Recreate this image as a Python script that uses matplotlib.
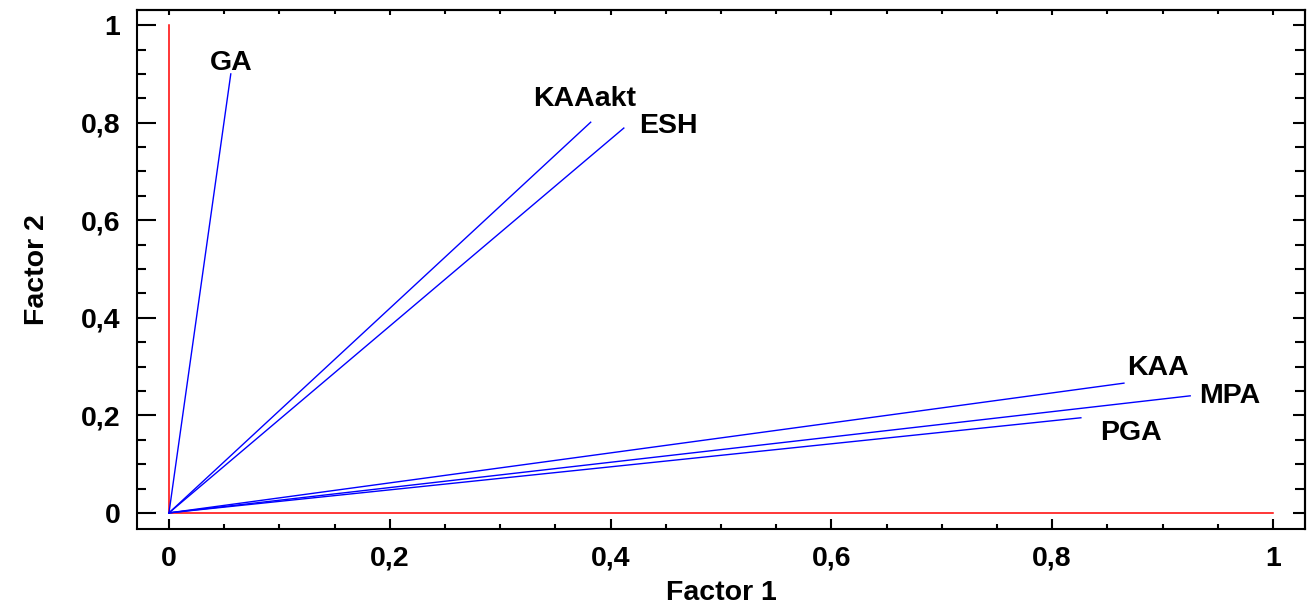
import matplotlib
matplotlib.use("Agg")
import matplotlib.pyplot as plt
from matplotlib.ticker import MultipleLocator, FuncFormatter

plt.rcParams['font.family'] = ['Liberation Sans', 'DejaVu Sans']
plt.rcParams['font.weight'] = 'bold'

# factor loadings
variables = ['GA', 'KAAakt', 'ESH', 'KAA', 'MPA', 'PGA']
factor1 = [0.056, 0.382, 0.412, 0.865, 0.925, 0.826]
factor2 = [0.900, 0.801, 0.789, 0.266, 0.240, 0.195]

# label placement (pixels from line end), alignment
label_offsets = [(0, 4), (-6, 16), (15, -5), (3, 8), (9, -7), (19, -22)]
label_ha = ['center', 'center', 'left', 'left', 'left', 'left']

FS = 20.5

fig = plt.figure(figsize=(13.08, 6.04), dpi=100)
ax = fig.add_axes([0.1047, 0.1242, 0.8930, 0.8592])

# reference axes in red
ax.plot([0, 0], [0, 1], color='red', lw=1.1)
ax.plot([0, 1], [0, 0], color='red', lw=1.1)

for name, f1, f2, off, ha in zip(variables, factor1, factor2, label_offsets, label_ha):
    ax.plot([0, f1], [0, f2], color='blue', lw=1.0)
    ax.annotate(name, (f1, f2), xytext=off, textcoords='offset pixels',
                ha=ha, va='baseline', fontsize=FS, fontweight='bold')

ax.set_xlim(-0.029, 1.029)
ax.set_ylim(-0.033, 1.031)

fmt = FuncFormatter(lambda v, p: ('%g' % round(v, 2)).replace('.', ','))
for axis in (ax.xaxis, ax.yaxis):
    axis.set_major_locator(MultipleLocator(0.2))
    axis.set_minor_locator(MultipleLocator(0.05))
    axis.set_major_formatter(fmt)

ax.tick_params(axis='x', which='major', direction='in', length=7, width=1.5,
               labelsize=FS, pad=12, top=False)
ax.tick_params(axis='x', which='minor', direction='in', length=3.5, width=1.5, top=False)
ax.tick_params(axis='y', which='major', direction='in', length=14, width=1.5,
               labelsize=FS, pad=12, right=False)
ax.tick_params(axis='y', which='minor', direction='in', length=6.5, width=1.5, right=False)

# top and right ticks with their own lengths
top = ax.secondary_xaxis('top')
right = ax.secondary_yaxis('right')
for sec, ax_name in ((top, 'x'), (right, 'y')):
    a = sec.xaxis if ax_name == 'x' else sec.yaxis
    a.set_major_locator(MultipleLocator(0.2))
    a.set_minor_locator(MultipleLocator(0.05))
top.tick_params(which='major', direction='in', length=3.5, width=1.5, labeltop=False)
top.tick_params(which='minor', direction='in', length=3, width=1.5)
right.tick_params(which='major', direction='in', length=9, width=1.5, labelright=False)
right.tick_params(which='minor', direction='in', length=7, width=1.5)
top.spines['top'].set_linewidth(1.5)
right.spines['right'].set_linewidth(1.5)

for s in ax.spines.values():
    s.set_linewidth(1.5)

for lbl in ax.get_xticklabels() + ax.get_yticklabels():
    lbl.set_fontweight('bold')

ax.set_xlabel('Factor 1', fontsize=FS, fontweight='bold', labelpad=6)
ax.set_ylabel('Factor 2', fontsize=FS, fontweight='bold', labelpad=22)

fig.savefig('out.png', dpi=100)
